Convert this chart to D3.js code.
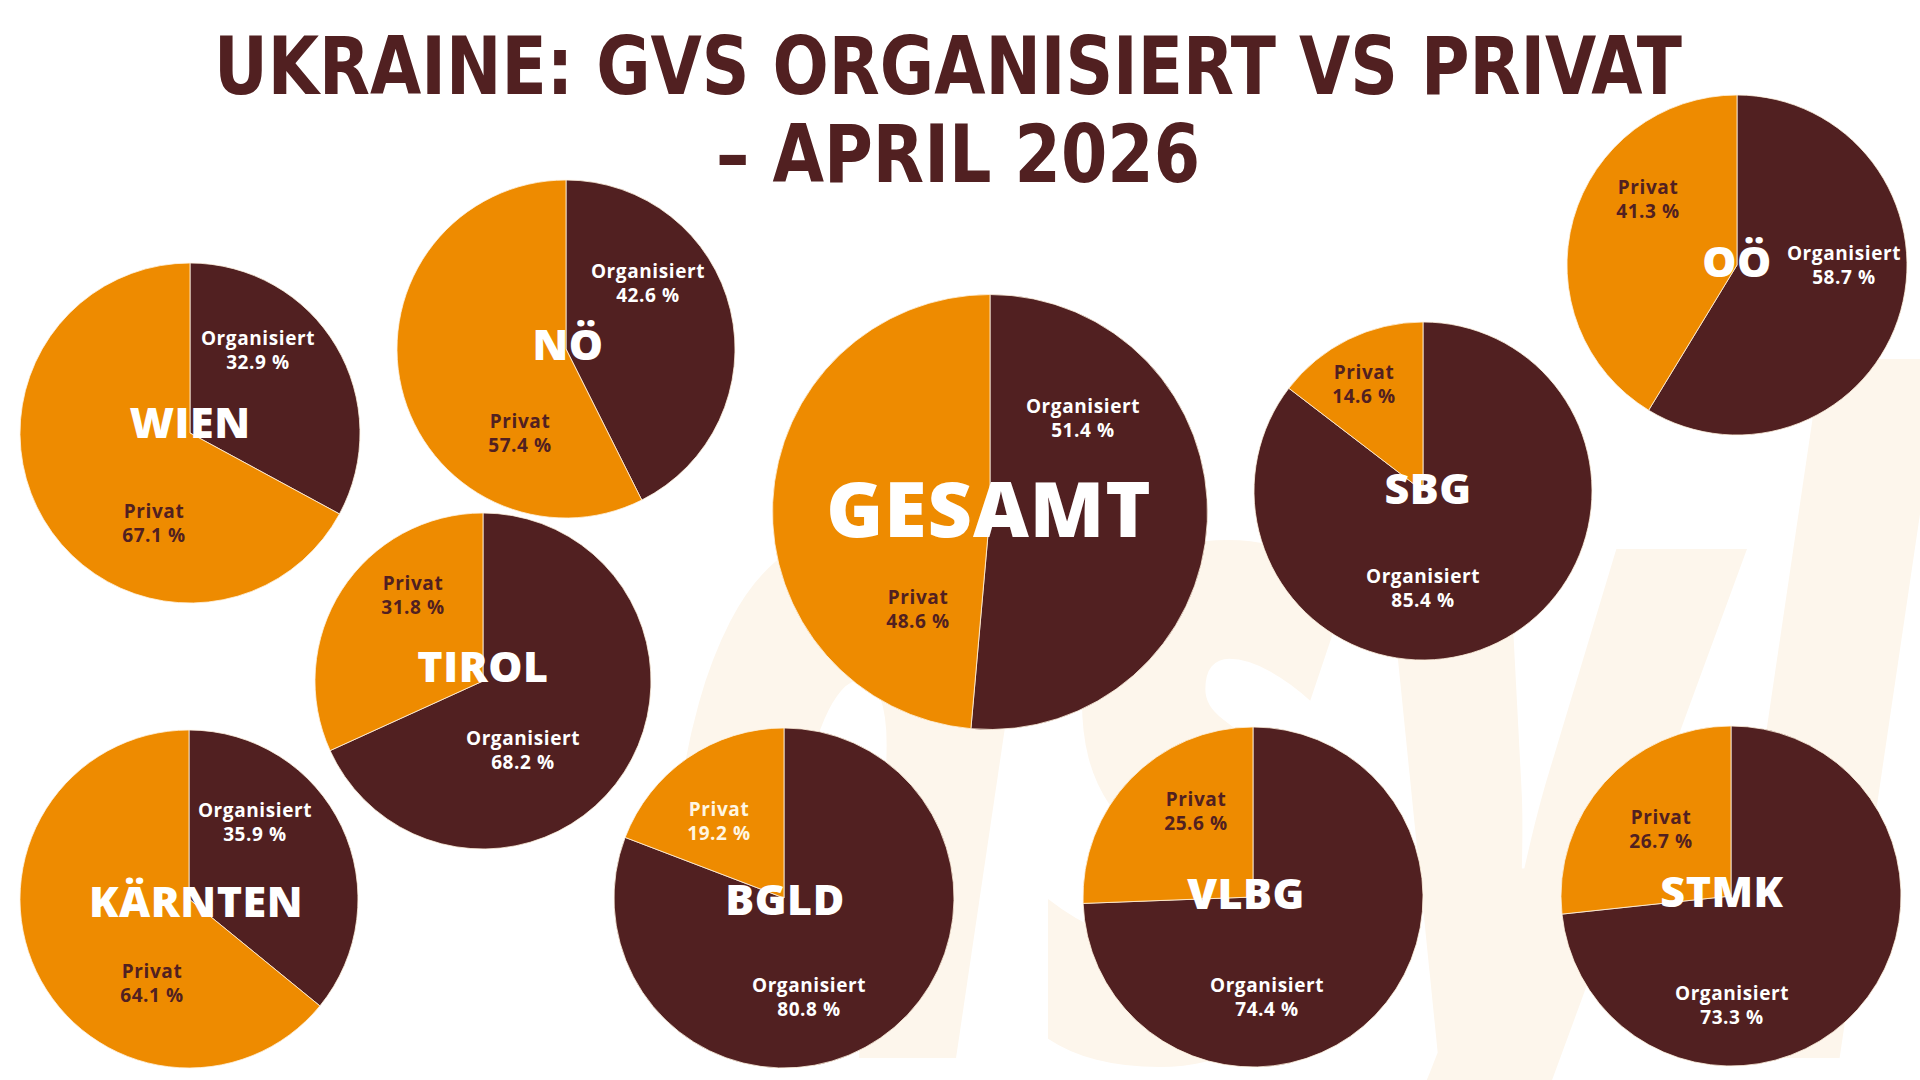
<!DOCTYPE html>
<html>
<head>
<meta charset="utf-8">
<script src="https://cdn.jsdelivr.net/npm/d3@7"></script>
<style>
  html, body { margin: 0; padding: 0; background: #ffffff; }
  svg { display: block; }
</style>
</head>
<body>
<svg class="chart"></svg>
<script>
// values (percent)
const regions = ["WIEN", "NÖ", "GESAMT", "SBG", "OÖ", "TIROL", "KÄRNTEN", "BGLD", "VLBG", "STMK"];
const organisiert = [32.9, 42.6, 51.4, 85.4, 58.7, 68.2, 35.9, 80.8, 74.4, 73.3];
const privat = [67.1, 57.4, 48.6, 14.6, 41.3, 31.8, 64.1, 19.2, 25.6, 26.7];
const categories = ["Organisiert", "Privat"];

const titleLines = ["UKRAINE: GVS ORGANISIERT VS PRIVAT", "– APRIL 2026"];

// where each pie sits on the poster (center, radius, label offsets from center)
const layout = [
  { cx: 190,  cy: 433, r: 170,   name: [0, 5],    org: [68, -88],  priv: [-36, 85] },
  { cx: 566,  cy: 349, r: 169,   name: [2, 11],   org: [82, -71],  priv: [-46, 79] },
  { cx: 990,  cy: 512, r: 217.5, name: [-1, 25],  org: [93, -99],  priv: [-72, 92], big: true },
  { cx: 1423, cy: 491, r: 169,   name: [5, 13],   org: [0, 92],    priv: [-59, -112] },
  { cx: 1737, cy: 265, r: 170,   name: [0, 12],   org: [107, -5],  priv: [-89, -71] },
  { cx: 483,  cy: 681, r: 168,   name: [0, 1],    org: [40, 64],   priv: [-70, -91] },
  { cx: 189,  cy: 899, r: 169,   name: [7, 18],   org: [66, -82],  priv: [-37, 79] },
  { cx: 784,  cy: 898, r: 170,   name: [1, 17],   org: [25, 94],   priv: [-65, -82], privLight: true },
  { cx: 1253, cy: 897, r: 170,   name: [-7, 12],  org: [14, 95],   priv: [-57, -91] },
  { cx: 1731, cy: 896, r: 170,   name: [-9, 11],  org: [1, 104],   priv: [-70, -72] }
];

const width = 1920, height = 1080;
const brown = "#512021", orange = "#ee8b00", cream = "#fdf6ec";

const color = d3.scaleOrdinal().domain(categories).range([brown, orange]);

const svg = d3.select(".chart")
  .attr("width", width)
  .attr("height", height)
  .style("font-family", "'Open Sans', 'Noto Sans', sans-serif");

svg.append("rect").attr("width", width).attr("height", height).attr("fill", "#ffffff");

// faint watermark behind everything
svg.append("text")
  .attr("x", 648)
  .attr("y", 1058)
  .attr("textLength", 1272)
  .attr("lengthAdjust", "spacingAndGlyphs")
  .style("font-size", "920px")
  .style("font-weight", 800)
  .style("font-style", "italic")
  .attr("fill", cream)
  .text("asyl");

// title
svg.selectAll(".title")
  .data(titleLines)
  .enter()
  .append("text")
  .attr("class", "title")
  .attr("x", (d, i) => i === 0 ? 948 : 958)
  .attr("y", (d, i) => i === 0 ? 94 : 182)
  .attr("text-anchor", "middle")
  .attr("textLength", (d, i) => i === 0 ? 1468 : 484)
  .attr("lengthAdjust", "spacingAndGlyphs")
  .style("font-family", "'DejaVu Sans Condensed', 'DejaVu Sans', sans-serif")
  .style("font-weight", 700)
  .style("font-size", "80px")
  .attr("fill", brown)
  .text(d => d);

const pie = d3.pie().sort(null).value(d => d.value);

const pies = regions.map((name, i) => ({
  name,
  layout: layout[i],
  slices: pie([
    { key: categories[0], value: organisiert[i] },
    { key: categories[1], value: privat[i] }
  ])
}));

const fmt = v => v.toFixed(1) + " %";

pies.forEach(p => {
  const L = p.layout;
  const g = svg.append("g")
    .attr("class", "pie")
    .attr("transform", `translate(${L.cx},${L.cy})`);

  const arc = d3.arc().innerRadius(0).outerRadius(L.r);

  g.selectAll("path")
    .data(p.slices)
    .enter()
    .append("path")
    .attr("d", arc)
    .attr("fill", d => color(d.data.key))
    .attr("stroke", "#fff3e0")
    .attr("stroke-width", 0.8);

  // slice labels: name on first line, value below
  p.slices.forEach(s => {
    const isOrg = s.data.key === "Organisiert";
    const off = isOrg ? L.org : L.priv;
    const fill = isOrg ? "#ffffff" : (L.privLight ? "#fff6e2" : brown);
    const t = g.append("text")
      .attr("text-anchor", "middle")
      .attr("fill", fill)
      .style("font-size", "19px")
      .style("font-weight", 700)
      .style("letter-spacing", "0.6px");
    t.append("tspan").attr("x", off[0]).attr("y", off[1]).text(s.data.key);
    t.append("tspan").attr("x", off[0]).attr("y", off[1] + 24).text(fmt(s.data.value));
  });

  // region name in the middle
  g.append("text")
    .attr("x", L.name[0])
    .attr("y", L.name[1])
    .attr("text-anchor", "middle")
    .attr("fill", "#ffffff")
    .style("font-size", L.big ? "77px" : "43px")
    .style("font-weight", 800)
    .style("letter-spacing", L.big ? "1px" : "0.5px")
    .text(p.name);
});
</script>
</body>
</html>
